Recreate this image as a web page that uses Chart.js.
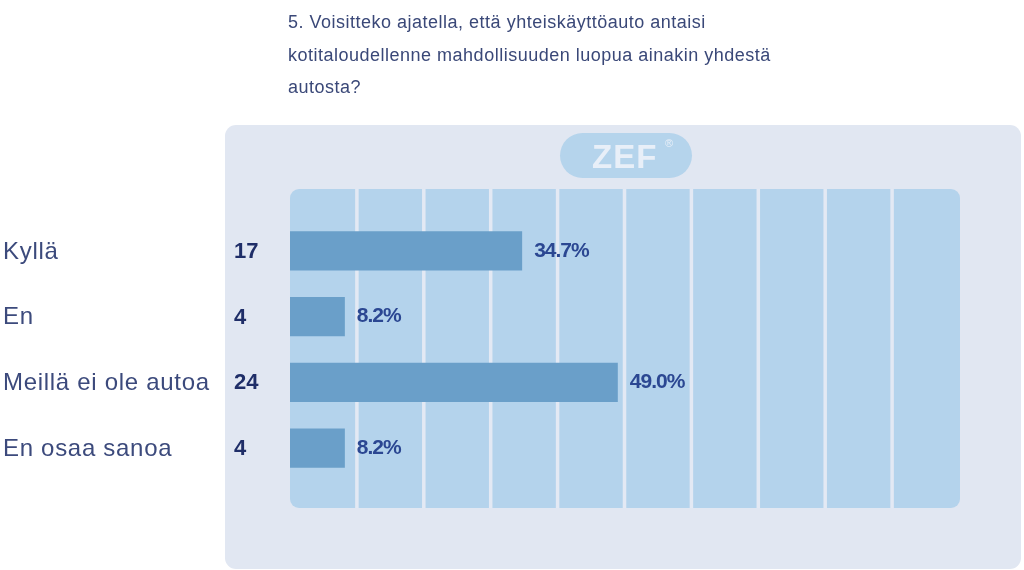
<!DOCTYPE html>
<html>
<head>
<meta charset="utf-8">
<script src="https://cdn.jsdelivr.net/npm/chart.js@4/dist/chart.umd.min.js"></script>
<style>
  html, body { margin: 0; padding: 0; background: #ffffff; }
  #wrap { width: 1024px; height: 570px; }
</style>
</head>
<body>
<div id="wrap"><canvas id="c" width="1024" height="570"></canvas></div>
<script>
const titleLines = [
  "5. Voisitteko ajatella, että yhteiskäyttöauto antaisi",
  "kotitaloudellenne mahdollisuuden luopua ainakin yhdestä",
  "autosta?"
];
const categories = ["Kyllä", "En", "Meillä ei ole autoa", "En osaa sanoa"];
const counts = [17, 4, 24, 4];
const percents = [34.7, 8.2, 49.0, 8.2];
const percentLabels = ["34.7%", "8.2%", "49.0%", "8.2%"];
const gridTicks = [10, 20, 30, 40, 50, 60, 70, 80, 90];

function roundRect(ctx, x, y, w, h, r) {
  ctx.beginPath();
  ctx.moveTo(x + r, y);
  ctx.lineTo(x + w - r, y);
  ctx.arcTo(x + w, y, x + w, y + r, r);
  ctx.lineTo(x + w, y + h - r);
  ctx.arcTo(x + w, y + h, x + w - r, y + h, r);
  ctx.lineTo(x + r, y + h);
  ctx.arcTo(x, y + h, x, y + h - r, r);
  ctx.lineTo(x, y + r);
  ctx.arcTo(x, y, x + r, y, r);
  ctx.closePath();
}

const decor = {
  id: 'decor',
  beforeDraw(chart) {
    const ctx = chart.ctx;
    const xs = chart.scales.x;
    ctx.save();
    // outer panel
    ctx.fillStyle = '#e1e7f2';
    roundRect(ctx, 225, 125, 796, 444, 11);
    ctx.fill();
    // ZEF pill
    ctx.fillStyle = '#b5d4ec';
    roundRect(ctx, 560, 133, 132, 45, 22.5);
    ctx.fill();
    ctx.fillStyle = '#e8eff8';
    ctx.font = 'bold 33px "Liberation Sans", Arial, sans-serif';
    ctx.letterSpacing = '1px';
    ctx.textBaseline = 'alphabetic';
    ctx.textAlign = 'left';
    ctx.fillText('ZEF', 592, 168);
    ctx.letterSpacing = '0px';
    ctx.font = '11px "Liberation Sans", Arial, sans-serif';
    ctx.fillText('®', 665, 147);
    // inner plot background
    const x0 = xs.getPixelForValue(0);
    const x1 = xs.getPixelForValue(100);
    ctx.fillStyle = '#b4d3ec';
    roundRect(ctx, x0, 189, x1 - x0 + 1, 319, 9);
    ctx.fill();
    // column separators
    ctx.strokeStyle = '#e3e9f4';
    ctx.lineWidth = 3.5;
    gridTicks.forEach(v => {
      const px = xs.getPixelForValue(v);
      ctx.beginPath();
      ctx.moveTo(px, 189);
      ctx.lineTo(px, 508);
      ctx.stroke();
    });
    // title
    ctx.fillStyle = '#3a4878';
    ctx.font = '18px "Liberation Sans", Arial, sans-serif';
    ctx.letterSpacing = '0.5px';
    titleLines.forEach((t, i) => ctx.fillText(t, 288, 28 + i * 32.5));
    ctx.restore();
  },
  afterDatasetsDraw(chart) {
    const ctx = chart.ctx;
    const xs = chart.scales.x;
    const ys = chart.scales.y;
    ctx.save();
    ctx.textBaseline = 'middle';
    ctx.textAlign = 'left';
    categories.forEach((c, i) => {
      const py = ys.getPixelForValue(i);
      ctx.letterSpacing = '0.7px';
      ctx.fillStyle = '#3c4a7c';
      ctx.font = '24px "Liberation Sans", Arial, sans-serif';
      ctx.fillText(c, 3, py + 1);
      ctx.letterSpacing = '0px';
      ctx.fillStyle = '#1f2e68';
      ctx.font = 'bold 22px "Liberation Sans", Arial, sans-serif';
      ctx.fillText(String(counts[i]), 234, py + 1);
      ctx.letterSpacing = '-1px';
      ctx.fillStyle = '#2b4792';
      ctx.font = 'bold 21px "Liberation Sans", Arial, sans-serif';
      ctx.fillText(percentLabels[i], xs.getPixelForValue(percents[i]) + 12, py);
    });
    ctx.restore();
  }
};

new Chart(document.getElementById('c'), {
  type: 'bar',
  data: {
    labels: categories,
    datasets: [{
      data: percents,
      backgroundColor: '#6a9fc9',
      borderWidth: 0,
      barPercentage: 0.6,
      categoryPercentage: 1.0
    }]
  },
  options: {
    indexAxis: 'y',
    responsive: false,
    animation: false,
    devicePixelRatio: 1,
    layout: { padding: { left: 290, right: 65, top: 218, bottom: 89 } },
    plugins: { legend: { display: false }, tooltip: { enabled: false }, title: { display: false } },
    scales: {
      x: { display: false, min: 0, max: 100 },
      y: { display: false }
    }
  },
  plugins: [decor]
});
</script>
</body>
</html>
